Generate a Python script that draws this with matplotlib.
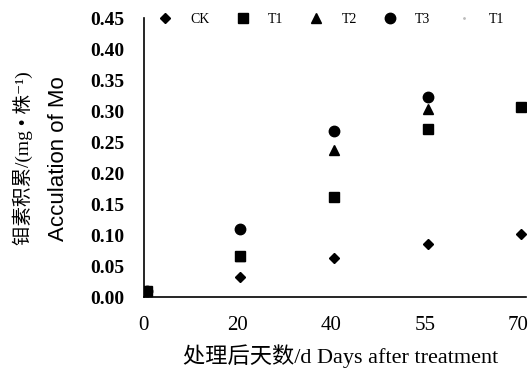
import numpy as np
import matplotlib
matplotlib.use("Agg")
import matplotlib.pyplot as plt
import matplotlib.transforms as mtransforms

days = ["0", "20", "40", "55", "70"]
ck = [0.01, 0.033, 0.063, 0.086, 0.101]
t1 = [0.01, 0.066, 0.161, 0.271, 0.306]
t2 = [0.01, 0.066, 0.237, 0.303, np.nan]
t3 = [0.01, 0.109, 0.267, 0.322, np.nan]
t4 = [0.01, np.nan, np.nan, np.nan, np.nan]
labels = ["CK", "T1", "T2", "T3", "T1"]
yticks = [0.00, 0.05, 0.10, 0.15, 0.20, 0.25, 0.30, 0.35, 0.40, 0.45]

serif = ["Liberation Serif", "DejaVu Serif"]
cjk = ["Liberation Serif", "Noto Sans CJK SC", "DejaVu Sans"]

fig = plt.figure(figsize=(5.31, 3.73), dpi=100)
ax = fig.add_axes([0.2712, 0.2037, 0.7194, 0.7480])

x = np.arange(len(days))
ax.plot(x, t4, ls="none", marker=".", ms=2, color="#bbbbbb", label=labels[4], zorder=1)
ax.plot(x, t3, ls="none", marker="o", ms=7.5, color="black", label=labels[3], zorder=2)
ax.plot(x, t2, ls="none", marker="^", ms=7, color="black", label=labels[2], zorder=3)
ax.plot(x, t1, ls="none", marker="s", ms=7, color="black", label=labels[1], zorder=4)
ax.plot(x, ck, ls="none", marker="D", ms=5, color="black", label=labels[0], zorder=5)

ax.set_xlim(-0.03, 4.05)
ax.set_ylim(0, 0.45)
ax.set_xticks(x)
ax.set_xticklabels(days, fontsize=15, family=serif)
ax.set_yticks(yticks)
ax.set_yticklabels([f"{v:.2f}" for v in yticks], fontsize=14, family=serif, fontweight="bold")
ax.tick_params(axis="y", length=0, pad=14)
ax.tick_params(axis="x", length=0, pad=14)
shift = mtransforms.ScaledTranslation(-3 / 100, 0, fig.dpi_scale_trans)
for lbl in ax.get_xticklabels():
    lbl.set_transform(lbl.get_transform() + shift)
ax.spines["top"].set_visible(False)
ax.spines["right"].set_visible(False)
ax.spines["left"].set_linewidth(1.2)
ax.spines["bottom"].set_linewidth(1.2)

handles, labs = ax.get_legend_handles_labels()
order = [4, 3, 2, 1, 0]
leg = ax.legend([handles[i] for i in order], [labs[i] for i in order], ncol=5, loc="center",
                bbox_to_anchor=(0.49, 0.995), frameon=False, prop={"family": serif, "size": 10},
                handletextpad=1.3, columnspacing=1.9, handlelength=1.0)

fig.text(0.043, 0.575, "钼素积累/(mg • 株⁻¹)", rotation=90, ha="center", va="center",
         fontsize=14, family=cjk)
fig.text(0.111, 0.575, "Acculation of Mo", rotation=90, ha="center", va="center",
         fontsize=16, family=["Liberation Sans", "DejaVu Sans"])
fig.text(0.641, 0.0456, "处理后天数/d Days after treatment", ha="center", va="center",
         fontsize=16, family=cjk)

fig.savefig("out.png", dpi=100)
